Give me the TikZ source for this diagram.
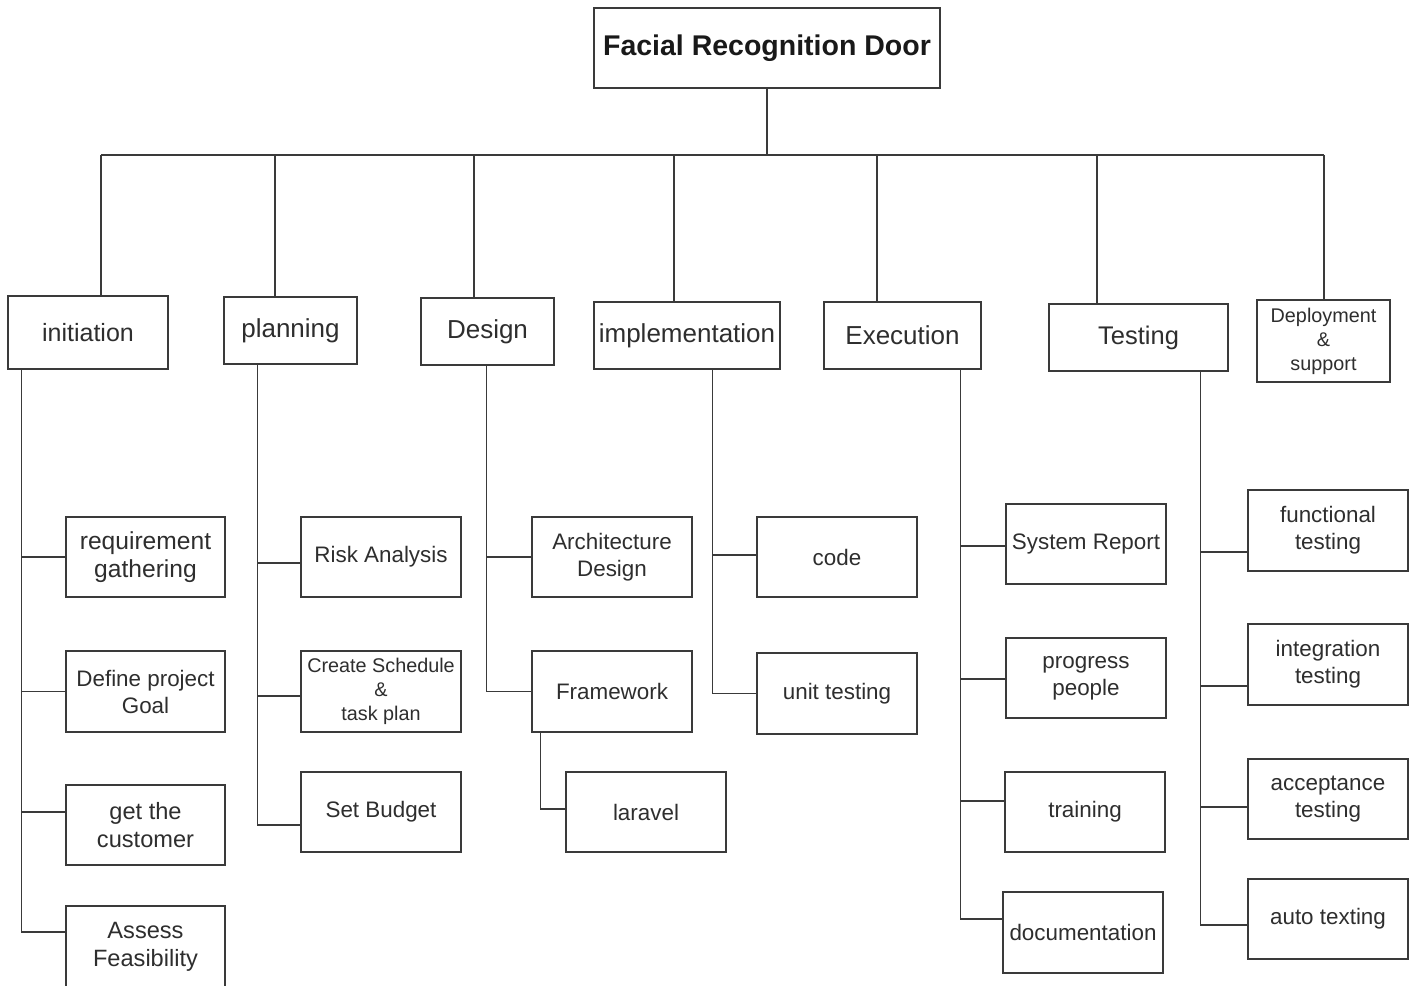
\documentclass[tikz,border=0pt]{standalone}
\usepackage{fontspec}
\setmainfont{Liberation Sans}
\definecolor{linec}{HTML}{3A3A3A}
\definecolor{textc}{HTML}{2E2E2E}
\tikzset{
  box/.style={draw=linec, line width=1.3pt, rectangle, inner sep=0pt, align=center, text=textc},
  conn/.style={draw=linec, line width=1.3pt},
  froot/.style={font=\fontsize{28.5}{34}\selectfont\bfseries},
  fph/.style={font=\fontsize{26}{31}\selectfont},
  fch/.style={font=\fontsize{22.4}{27}\selectfont},
  fbig/.style={font=\fontsize{24.6}{28.5}\selectfont},
  fmid/.style={font=\fontsize{23.6}{27.5}\selectfont},
  fsm/.style={font=\fontsize{19.8}{24}\selectfont},
}
\begin{document}
\begin{tikzpicture}[x=1pt,y=-1pt]
\useasboundingbox[fill=white] (0,0) rectangle (1415,985);
% root
\node[box,froot,text=black!90,minimum width=346pt,minimum height=80pt] (root) at (767,48) {Facial Recognition Door};
% phases
\node[box,fph,font=\fontsize{25}{30}\selectfont,minimum width=160pt,minimum height=73pt] (ini) at (88,332.5) {initiation};
\node[box,fph,minimum width=133pt,minimum height=67pt] (plan) at (290.5,330.5) {planning};
\node[box,fph,minimum width=133pt,minimum height=67pt] (des) at (487.5,331.5) {Design};
\node[box,fph,minimum width=186pt,minimum height=67pt] (imp) at (687,335.5) {implementation};
\node[box,fph,minimum width=157pt,minimum height=67pt] (exe) at (902.5,335.5) {Execution};
\node[box,fph,font=\fontsize{25.5}{30}\selectfont,minimum width=179pt,minimum height=67pt] (tst) at (1138.5,337.5) {Testing};
\node[box,fsm,minimum width=133pt,minimum height=82pt] (dep) at (1323.5,341) {Deployment\\\&\\support};
% initiation children
\node[box,fbig,minimum width=159pt,minimum height=80pt] (req) at (145.5,557) {requirement\\gathering};
\node[box,fch,minimum width=159pt,minimum height=81pt] (goal) at (145.5,691.5) {Define project\\Goal};
\node[box,fmid,minimum width=159pt,minimum height=80pt] (cust) at (145.5,825) {get the\\customer};
\node[box,fmid,minimum width=159pt,minimum height=82pt] (feas) at (145.5,947) {Assess\\Feasibility};
% planning children
\node[box,fch,minimum width=160pt,minimum height=80pt] (risk) at (381,557) {Risk Analysis};
\node[box,fsm,minimum width=160pt,minimum height=81pt] (sched) at (381,691.5) {Create Schedule\\\&\\task plan};
\node[box,fch,minimum width=160pt,minimum height=80pt] (budget) at (381,812) {Set Budget};
% design children
\node[box,fch,minimum width=160pt,minimum height=80pt] (arch) at (612,557) {Architecture\\Design};
\node[box,fch,minimum width=160pt,minimum height=81pt] (fw) at (612,691.5) {Framework};
\node[box,fch,minimum width=160pt,minimum height=80pt] (lar) at (646,812) {laravel};
% implementation children
\node[box,fch,minimum width=160pt,minimum height=80pt] (code) at (837,557) {code};
\node[box,fch,minimum width=160pt,minimum height=81pt] (unit) at (837,693.5) {unit testing};
% execution children
\node[box,fch,minimum width=160pt,minimum height=80pt] (sysr) at (1086,544) {System Report};
\node[box,fch,minimum width=160pt,minimum height=80pt] (prog) at (1086,678) {progress\\people};
\node[box,fch,minimum width=160pt,minimum height=80pt] (train) at (1085,812) {training};
\node[box,fch,minimum width=160pt,minimum height=81pt] (doc) at (1083,932.5) {documentation};
% testing children
\node[box,fch,minimum width=160pt,minimum height=81pt] (func) at (1328,530.5) {functional\\testing};
\node[box,fch,minimum width=160pt,minimum height=81pt] (integ) at (1328,664.5) {integration\\testing};
\node[box,fch,minimum width=160pt,minimum height=80pt] (acc) at (1328,799) {acceptance\\testing};
\node[box,fch,minimum width=160pt,minimum height=80pt] (auto) at (1328,919) {auto texting};
% top connectors
\coordinate (bar) at (767,155);
\draw[conn] (root.south) -- (root.south |- bar);
\draw[conn] ([xshift=13pt]ini.north |- bar) -- ([xshift=0.5pt]dep.north |- bar);
\draw[conn] ([xshift=13pt]ini.north |- bar) -- ([xshift=13pt]ini.north);
\draw[conn] ([xshift=-15.5pt]plan.north |- bar) -- ([xshift=-15.5pt]plan.north);
\draw[conn] ([xshift=-13.5pt]des.north |- bar) -- ([xshift=-13.5pt]des.north);
\draw[conn] ([xshift=-13pt]imp.north |- bar) -- ([xshift=-13pt]imp.north);
\draw[conn] ([xshift=-25.5pt]exe.north |- bar) -- ([xshift=-25.5pt]exe.north);
\draw[conn] ([xshift=-41.5pt]tst.north |- bar) -- ([xshift=-41.5pt]tst.north);
\draw[conn] ([xshift=0.5pt]dep.north |- bar) -- ([xshift=0.5pt]dep.north);
% initiation branch
\draw[conn] ([xshift=14pt]ini.south west) |- (req.west);
\draw[conn] ([xshift=14pt]ini.south west) |- (goal.west);
\draw[conn] ([xshift=14pt]ini.south west) |- ([yshift=13pt]cust.west);
\draw[conn] ([xshift=14pt]ini.south west) |- ([yshift=15pt]feas.west);
% planning branch
\draw[conn] ([xshift=34pt]plan.south west) |- ([yshift=-6pt]risk.west);
\draw[conn] ([xshift=34pt]plan.south west) |- ([yshift=-4.5pt]sched.west);
\draw[conn] ([xshift=34pt]plan.south west) |- ([yshift=-13pt]budget.west);
% design branch
\draw[conn] ([xshift=66pt]des.south west) |- (arch.west);
\draw[conn] ([xshift=66pt]des.south west) |- (fw.west);
\draw[conn] ([xshift=9pt]fw.south west) |- ([yshift=3pt]lar.west);
% implementation branch
\draw[conn] ([xshift=119pt]imp.south west) |- ([yshift=2pt]code.west);
\draw[conn] ([xshift=119pt]imp.south west) |- (unit.west);
% execution branch
\draw[conn] ([xshift=137pt]exe.south west) |- ([yshift=-2pt]sysr.west);
\draw[conn] ([xshift=137pt]exe.south west) |- ([yshift=-1pt]prog.west);
\draw[conn] ([xshift=137pt]exe.south west) |- ([yshift=11pt]train.west);
\draw[conn] ([xshift=137pt]exe.south west) |- ([yshift=13.5pt]doc.west);
% testing branch
\draw[conn] ([xshift=152pt]tst.south west) |- ([yshift=-21.5pt]func.west);
\draw[conn] ([xshift=152pt]tst.south west) |- ([yshift=-21.5pt]integ.west);
\draw[conn] ([xshift=152pt]tst.south west) |- ([yshift=-8pt]acc.west);
\draw[conn] ([xshift=152pt]tst.south west) |- ([yshift=-6pt]auto.west);
\end{tikzpicture}
\end{document}
